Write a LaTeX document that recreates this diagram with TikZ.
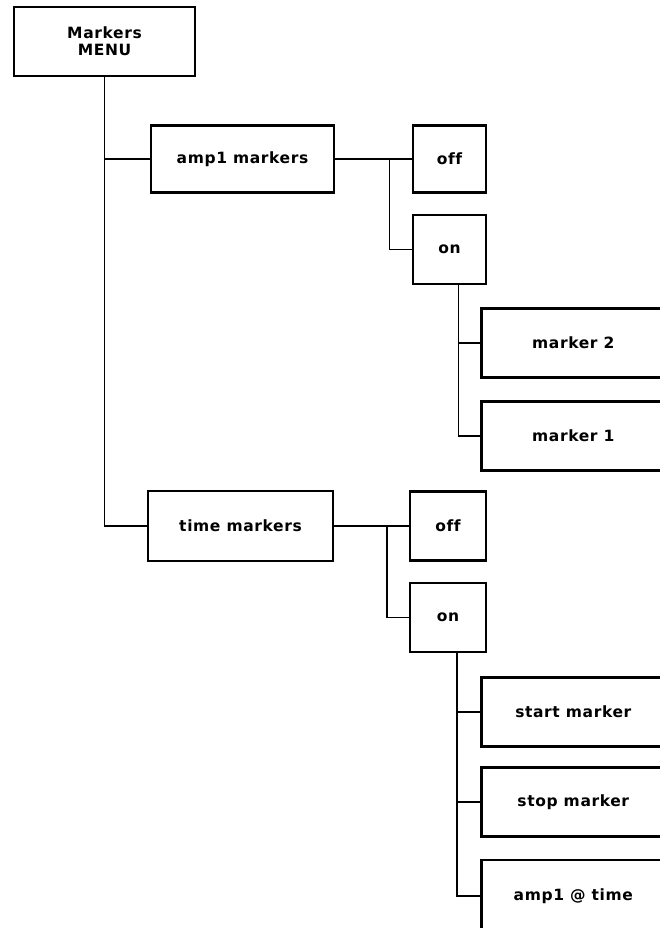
\documentclass[tikz,border=0pt]{standalone}
\usepackage{fontspec}
\newfontfamily\plotfont{DejaVu Sans Bold}[LetterSpace=4, Ligatures={NoCommon}]
\usetikzlibrary{positioning, calc}
\tikzset{
  menubox/.style={rectangle, draw=black, fill=white, line width=2.6pt,
    align=center, inner sep=0pt, font=\plotfont\fontsize{15.5}{17}\selectfont},
  leafbox/.style={menubox, anchor=west, minimum width=184, minimum height=69},
  link/.style={draw=black, line width=1.4pt}
}
\begin{document}
\begin{tikzpicture}[x=1pt, y=-1pt]
  \clip (0,0) rectangle (660,928);
  \fill[white] (0,0) rectangle (660,928);

  % Top level
  \node[menubox, minimum width=181, minimum height=69] (root) at (104.5,41.5) {Markers\\MENU};

  % Amplitude marker branch
  \node[menubox, minimum width=183, minimum height=67] (amp) at (242.5,159) {amp1 markers};
  \node[menubox, minimum width=73, minimum height=67] (ampoff) at (449.5,159) {off};
  \node[menubox, minimum width=73, minimum height=69] (ampon) at (449.5,249.5) {on};
  \node[leafbox] (mktwo) at (480,343) {marker 2};
  \node[leafbox] (mkone) at (480,436) {marker 1};

  % Time marker branch
  \node[menubox, minimum width=185, minimum height=70] (time) at (240.5,526) {time markers};
  \node[menubox, minimum width=76, minimum height=69] (timeoff) at (448,526) {off};
  \node[menubox, minimum width=76, minimum height=69] (timeon) at (448,617.5) {on};
  \node[leafbox] (start) at (480,712) {start marker};
  \node[leafbox] (stop) at (480,802) {stop marker};
  \node[leafbox, minimum height=72] (ampat) at (480,896) {amp1 @ time};

  % Connectors
  \draw[link] (root.south) |- (amp.west);
  \draw[link] (root.south) |- (time.west);

  \draw[link] (amp.east) -- (ampoff.west);
  \draw[link] ($(amp.east)!0.71!(ampoff.west)$) |- (ampon.west);
  \draw[link] ([xshift=9]ampon.south) |- (mktwo.west);
  \draw[link] ([xshift=9]ampon.south) |- (mkone.west);

  \draw[link] (time.east) -- (timeoff.west);
  \draw[link] ($(time.east)!0.71!(timeoff.west)$) |- (timeon.west);
  \draw[link] ([xshift=9]timeon.south) |- (start.west);
  \draw[link] ([xshift=9]timeon.south) |- (stop.west);
  \draw[link] ([xshift=9]timeon.south) |- (ampat.west);
\end{tikzpicture}
\end{document}
